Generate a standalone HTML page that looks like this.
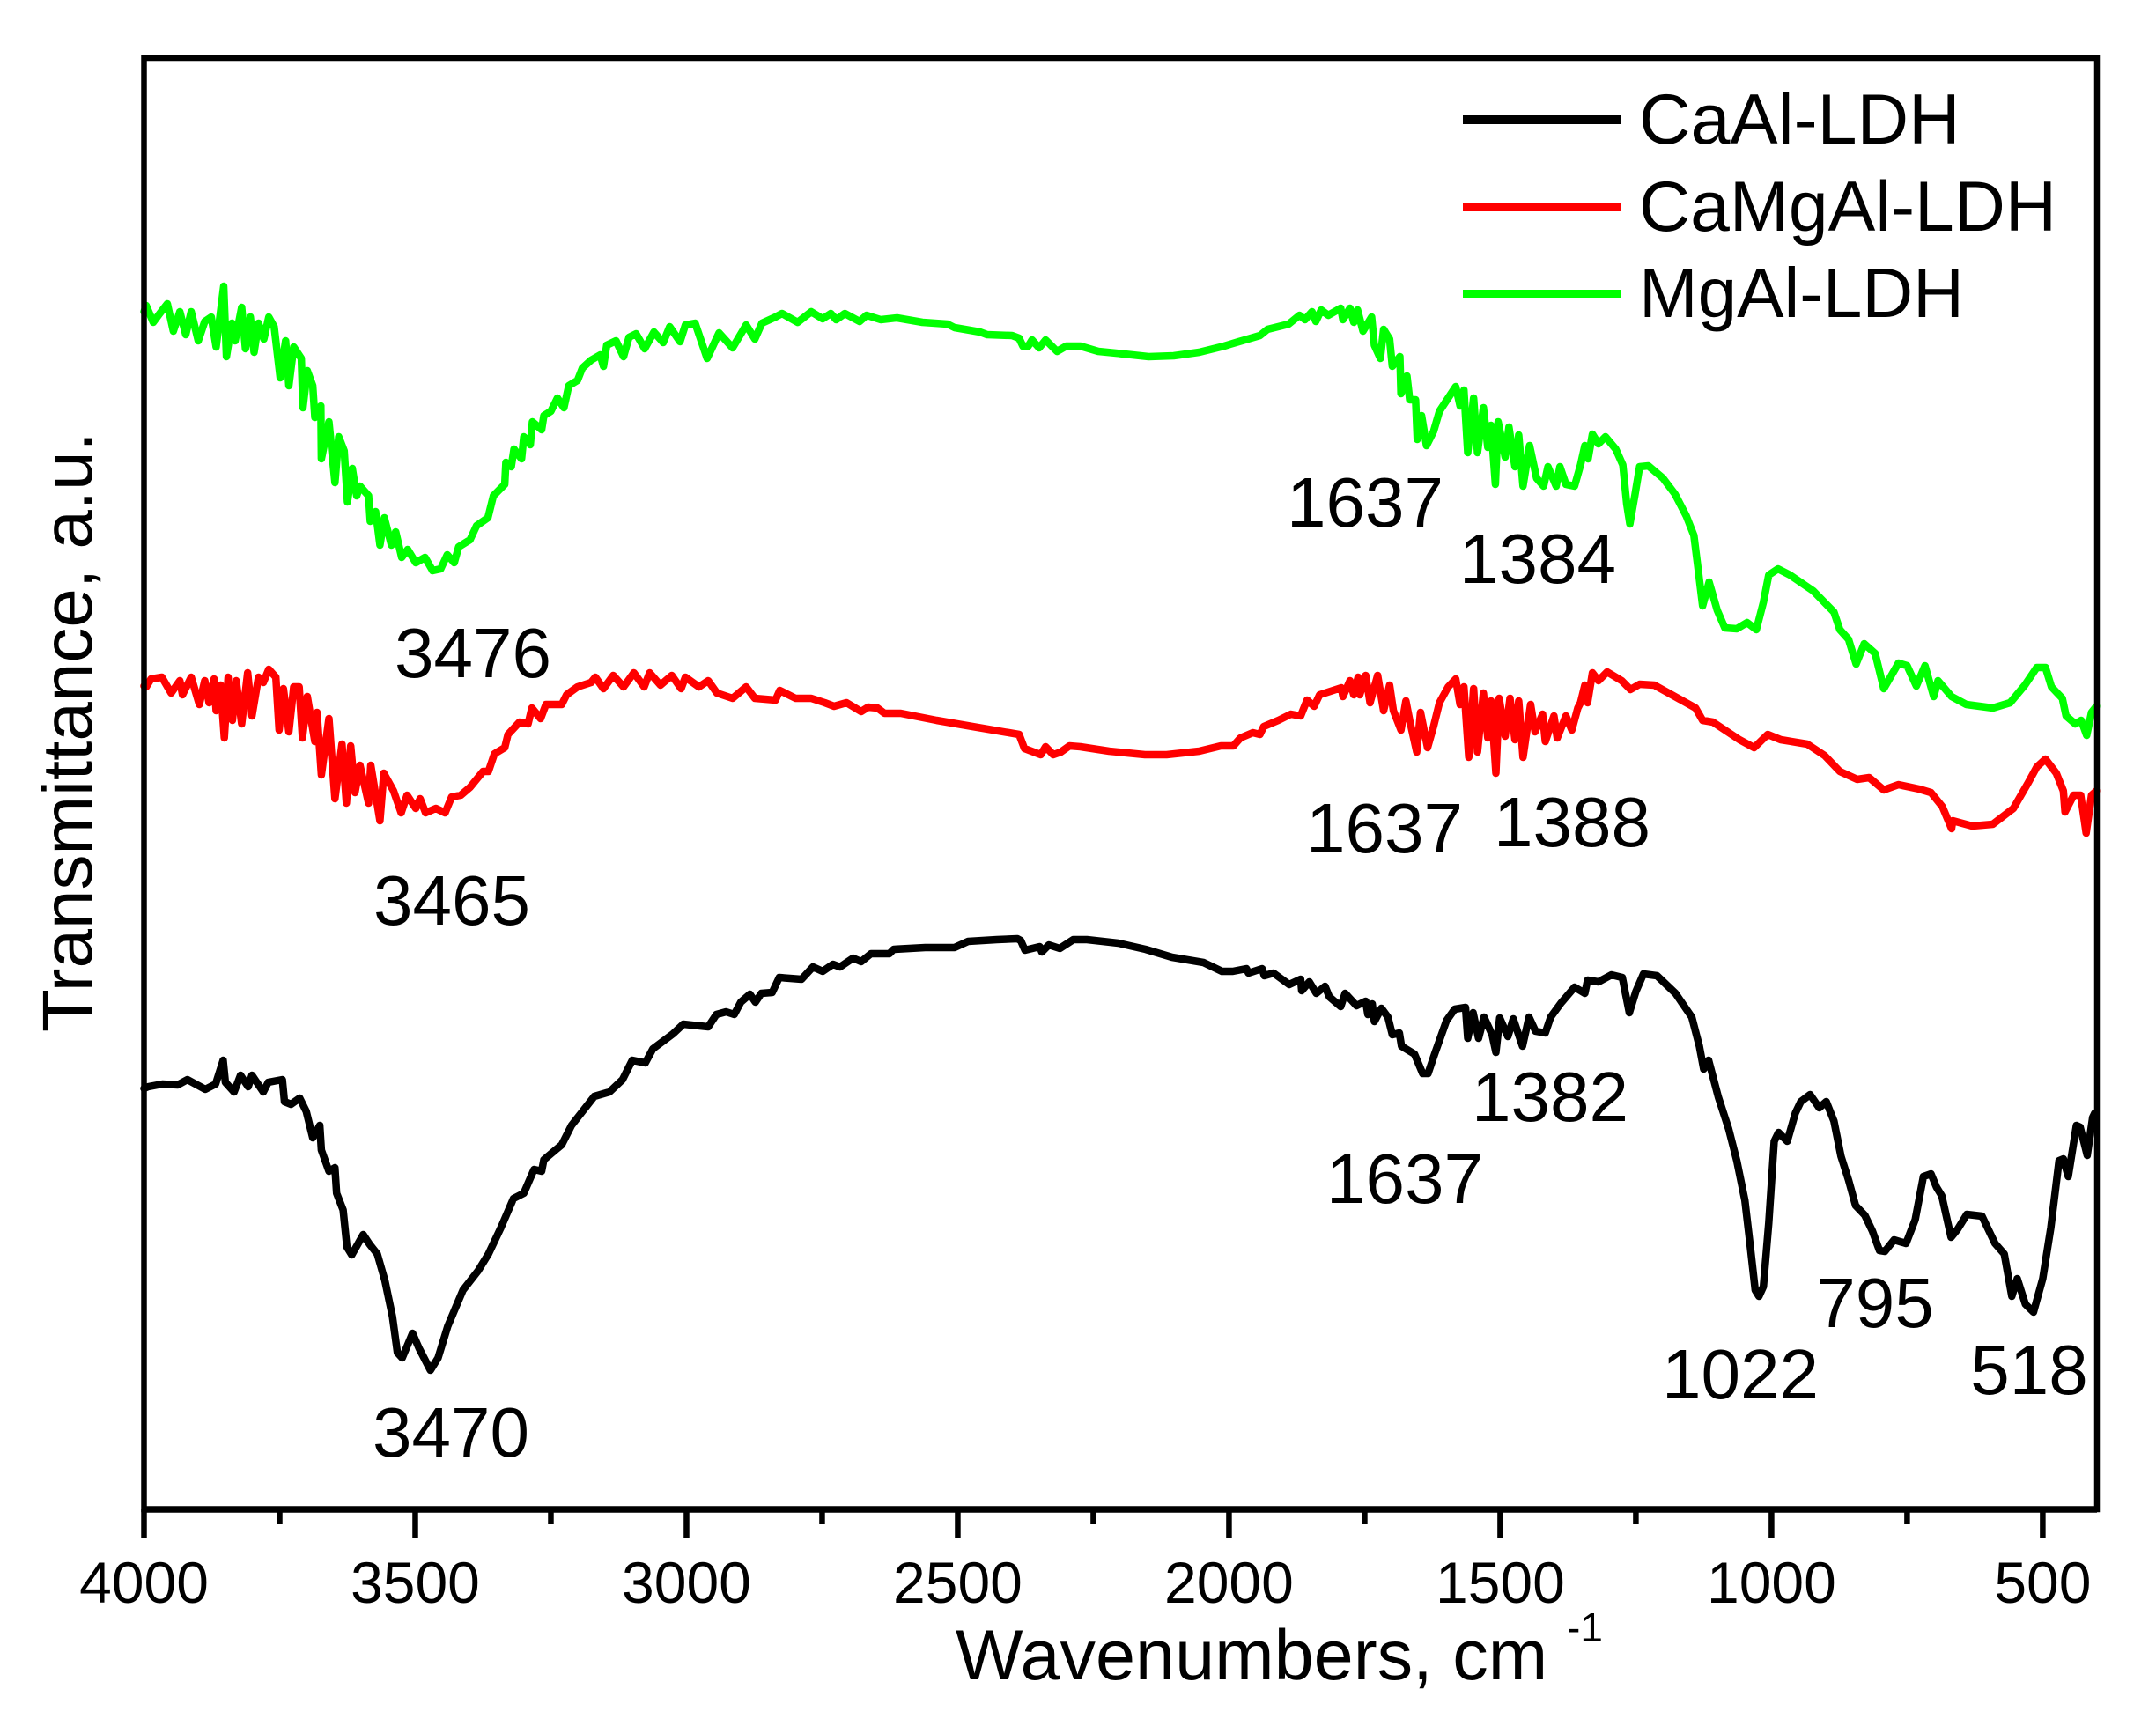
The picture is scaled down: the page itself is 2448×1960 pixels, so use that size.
<!DOCTYPE html>
<html lang="en">
<head>
<meta charset="utf-8">
<title>FTIR spectra of LDH samples</title>
<style>
html,body{margin:0;padding:0;background:#fff;}
svg{display:block;font-family:"Liberation Sans",Arial,sans-serif;fill:#000;}
</style>
</head>
<body>
<svg id="chart" xmlns="http://www.w3.org/2000/svg" width="2448" height="1960" viewBox="0 0 2448 1960">
  <rect x="0" y="0" width="2448" height="1960" fill="#ffffff"/>
  <g id="series-layer"></g>
  <g id="axis-layer"></g>

  <g>
    <text transform="translate(104 1172) rotate(-90)" font-size="80">Transmittance, a.u.</text>
  </g>
  <text x="1085" y="1907" font-size="81">Wavenumbers, cm</text>
  <text x="1779" y="1864" font-size="46">-1</text>

  <g>
    <rect x="1661" y="131" width="180" height="10" fill="#000000"/>
    <rect x="1661" y="230" width="180" height="10" fill="#ff0000"/>
    <rect x="1661" y="329" width="180" height="9" fill="#00ff00"/>
    <text x="1861" y="163" font-size="81">CaAl-LDH</text>
    <text x="1861" y="262" font-size="81" textLength="474" lengthAdjust="spacingAndGlyphs">CaMgAl-LDH</text>
    <text x="1861" y="360" font-size="80">MgAl-LDH</text>
  </g>

  <g font-size="80" text-anchor="middle">
    <text x="537" y="769">3476</text>
    <text x="1550" y="598">1637</text>
    <text x="1746" y="662">1384</text>
    <text x="513" y="1050">3465</text>
    <text x="1572" y="968">1637</text>
    <text x="1785" y="961">1388</text>
    <text x="512" y="1654">3470</text>
    <text x="1595" y="1366">1637</text>
    <text x="1760" y="1273">1382</text>
    <text x="1976" y="1588">1022</text>
    <text x="2129" y="1507">795</text>
    <text x="2304" y="1583">518</text>
  </g>
</svg>

<script>
const majorTicks = [4000,3500,3000,2500,2000,1500,1000,500];
const majorTickLabels = ["4000","3500","3000","2500","2000","1500","1000","500"];
const minorTicks = [3750,3250,2750,2250,1750,1250,750];

const mgAlWavenumbers = [4000,3996,3983,3971,3957,3946,3934,3923,3913,3900,3888,3876,3867,3853,3848,3838,3832,3820,3813,3804,3797,3789,3779,3770,3760,3749,3739,3733,3724,3710,3707,3699,3689,3685,3674,3673,3659,3648,3641,3631,3625,3616,3608,3602,3586,3583,3573,3565,3557,3544,3536,3525,3514,3499,3482,3468,3453,3441,3428,3420,3399,3387,3366,3356,3335,3333,3323,3318,3304,3300,3288,3284,3267,3263,3250,3238,3226,3217,3201,3192,3176,3159,3153,3147,3130,3116,3106,3093,3077,3060,3043,3031,3012,3002,2984,2973,2962,2940,2915,2890,2874,2861,2836,2824,2795,2770,2749,2734,2724,2708,2681,2668,2642,2612,2565,2519,2506,2459,2446,2400,2387,2380,2370,2363,2350,2338,2317,2300,2274,2241,2208,2148,2102,2055,2009,1982,1943,1929,1890,1870,1860,1847,1840,1830,1817,1794,1790,1777,1770,1763,1753,1737,1732,1721,1715,1704,1699,1685,1683,1672,1667,1656,1653,1645,1636,1623,1612,1596,1582,1574,1567,1560,1549,1542,1531,1523,1517,1509,1504,1491,1484,1473,1466,1458,1446,1433,1420,1412,1397,1390,1379,1363,1352,1344,1338,1330,1319,1306,1287,1274,1267,1261,1252,1243,1227,1200,1178,1157,1143,1135,1127,1115,1100,1086,1064,1045,1028,1015,1005,988,966,923,885,874,858,844,829,809,793,766,750,733,717,701,693,668,641,592,560,533,511,495,484,464,457,440,429,419,410,401];
const mgAlValues = [1360,1367,1348,1358,1369,1338,1360,1334,1360,1327,1349,1354,1320,1389,1309,1347,1327,1365,1318,1354,1314,1347,1329,1354,1343,1285,1327,1276,1320,1307,1251,1293,1276,1240,1253,1193,1235,1166,1218,1202,1144,1182,1151,1162,1151,1122,1133,1095,1126,1095,1110,1081,1090,1075,1081,1066,1068,1084,1075,1093,1101,1117,1126,1151,1164,1189,1184,1204,1193,1218,1209,1235,1226,1242,1247,1262,1251,1276,1282,1296,1305,1311,1298,1322,1327,1309,1331,1335,1318,1337,1325,1343,1326,1345,1347,1327,1307,1336,1319,1345,1329,1347,1354,1358,1348,1360,1352,1358,1351,1358,1349,1356,1351,1353,1348,1346,1342,1337,1334,1333,1330,1321,1321,1328,1319,1328,1315,1321,1321,1315,1313,1309,1310,1314,1321,1326,1333,1340,1346,1356,1351,1360,1349,1362,1356,1364,1351,1364,1348,1362,1338,1354,1322,1307,1340,1329,1298,1309,1267,1287,1260,1260,1215,1242,1208,1224,1247,1262,1275,1253,1271,1200,1262,1200,1251,1206,1231,1164,1235,1195,1229,1184,1220,1162,1208,1171,1162,1184,1162,1184,1164,1162,1186,1208,1193,1221,1210,1218,1204,1186,1142,1119,1151,1184,1185,1171,1153,1128,1106,1066,1026,1053,1021,1001,1000,1007,999,1030,1061,1068,1061,1043,1019,999,988,960,983,972,932,961,958,935,958,923,941,923,914,910,916,936,956,956,934,921,901,892,896,879,905,912];

const caMgAlWavenumbers = [4000,3996,3987,3967,3950,3934,3929,3913,3898,3888,3880,3871,3867,3859,3852,3845,3837,3830,3820,3809,3801,3789,3780,3770,3757,3751,3743,3733,3724,3714,3708,3699,3685,3681,3673,3659,3648,3635,3627,3619,3611,3602,3586,3582,3565,3558,3540,3526,3515,3499,3491,3481,3462,3445,3433,3416,3399,3375,3365,3354,3335,3329,3308,3292,3285,3269,3259,3230,3221,3201,3176,3168,3153,3135,3116,3097,3078,3068,3048,3027,3010,3002,2977,2960,2944,2915,2890,2874,2836,2828,2799,2770,2745,2728,2705,2678,2665,2648,2635,2605,2539,2473,2406,2387,2377,2347,2338,2324,2310,2294,2274,2221,2155,2115,2055,2015,1992,1979,1956,1943,1936,1909,1886,1868,1856,1843,1833,1793,1790,1777,1770,1762,1759,1748,1740,1726,1715,1704,1697,1683,1674,1667,1654,1647,1634,1623,1612,1596,1582,1574,1567,1558,1549,1542,1531,1523,1517,1508,1502,1491,1482,1473,1466,1458,1444,1436,1422,1417,1401,1395,1379,1368,1357,1352,1344,1339,1330,1319,1303,1276,1260,1243,1216,1178,1140,1127,1108,1059,1032,1007,983,934,902,874,842,820,793,766,728,706,685,668,666,630,592,554,527,511,495,475,462,459,443,430,420,410,401];
const caMgAlValues = [935,934,943,945,927,941,925,945,914,941,916,943,907,936,876,945,896,941,892,950,901,945,939,954,945,885,932,883,934,934,876,923,872,905,834,898,807,869,802,867,814,845,802,845,782,836,816,791,811,796,807,791,796,791,809,811,820,838,838,858,865,880,894,892,910,898,914,914,925,934,939,945,932,947,934,950,934,950,936,947,932,945,934,941,927,921,934,921,919,930,921,921,916,912,916,906,911,910,904,904,896,889,882,880,864,857,866,857,860,867,866,861,857,857,861,867,867,876,882,880,889,896,903,901,919,912,925,933,923,941,925,945,925,947,916,947,907,936,907,885,918,896,860,905,865,889,916,934,943,914,934,854,932,860,927,876,918,836,921,878,921,874,918,854,914,883,903,872,901,876,901,885,910,916,936,916,950,941,951,941,931,937,936,923,910,896,894,874,865,880,874,869,856,838,829,831,817,823,818,814,798,773,782,776,778,796,825,843,852,836,816,792,811,811,768,811,816];

const caAlWavenumbers = [4000,3992,3966,3938,3920,3887,3868,3854,3850,3834,3822,3808,3801,3780,3771,3745,3741,3729,3713,3701,3689,3676,3673,3659,3648,3645,3633,3626,3617,3596,3584,3570,3556,3542,3533,3524,3505,3493,3472,3458,3440,3412,3384,3365,3342,3319,3300,3281,3267,3263,3230,3212,3170,3142,3118,3100,3076,3062,3025,3006,2960,2945,2927,2912,2900,2883,2873,2862,2842,2829,2788,2767,2749,2730,2717,2693,2678,2660,2626,2618,2560,2506,2481,2428,2390,2384,2376,2349,2345,2332,2312,2287,2262,2204,2154,2105,2047,2013,1993,1968,1964,1939,1935,1918,1889,1868,1866,1852,1839,1823,1815,1794,1786,1765,1748,1744,1736,1732,1719,1707,1699,1686,1682,1658,1643,1633,1621,1599,1584,1564,1560,1550,1540,1530,1515,1508,1501,1486,1476,1459,1447,1435,1417,1407,1388,1363,1344,1339,1319,1295,1275,1262,1250,1236,1211,1177,1147,1133,1125,1116,1098,1079,1064,1049,1039,1030,1023,1015,1005,995,987,971,956,946,929,912,899,885,872,858,845,828,814,801,791,774,752,735,720,706,696,686,669,657,640,612,588,571,557,547,532,517,500,485,470,462,453,438,431,418,408,404];
const caAlValues = [478,480,483,482,488,477,483,510,485,474,493,480,493,474,485,488,463,460,467,452,422,436,408,384,388,359,340,298,289,312,301,290,260,219,178,172,200,183,158,172,208,249,271,290,320,353,359,386,384,397,414,436,469,474,488,510,507,523,540,551,548,562,565,562,576,585,576,586,587,604,602,616,611,619,616,626,622,631,631,636,638,638,645,647,648,646,635,639,633,641,637,647,647,643,636,627,621,611,611,614,609,614,606,609,596,602,589,599,586,594,582,571,586,572,577,562,574,554,569,559,539,541,526,517,495,495,517,555,568,570,535,564,535,559,539,519,558,537,557,526,559,543,541,559,575,593,586,601,599,607,604,564,588,608,606,586,559,526,500,510,468,432,396,351,298,249,242,253,325,418,428,418,450,463,471,456,463,441,401,374,345,334,316,294,293,306,302,329,378,381,366,356,309,318,335,333,302,290,242,262,233,224,262,320,396,398,378,436,434,402,445,450];

const SVG_NS = "http://www.w3.org/2000/svg";
const plotLeft = 163.5, plotRight = 2381, plotTop = 66, plotBottom = 1714;
const xDomainMax = 4000, xDomainMin = 400;
const yDomainMin = 0, yDomainMax = 1648;

function xScale(w){
  return plotLeft + (xDomainMax - w) * (plotRight - plotLeft) / (xDomainMax - xDomainMin);
}
function yScale(v){
  return plotBottom - (v - yDomainMin) * (plotBottom - plotTop) / (yDomainMax - yDomainMin);
}
function pathFrom(ws, vs){
  let d = "";
  const n = Math.min(ws.length, vs.length);
  for(let i = 0; i < n; i++){
    d += (i ? "L" : "M") + xScale(ws[i]).toFixed(1) + " " + yScale(vs[i]).toFixed(1);
  }
  return d;
}

const seriesLayer = document.getElementById("series-layer");

const mgAlLine = document.createElementNS(SVG_NS, "path");


mgAlLine.setAttribute("d", pathFrom(mgAlWavenumbers, mgAlValues));
mgAlLine.setAttribute("stroke", "#00ff00");
seriesLayer.appendChild(mgAlLine);

const caMgAlLine = document.createElementNS(SVG_NS, "path");


caMgAlLine.setAttribute("d", pathFrom(caMgAlWavenumbers, caMgAlValues));
caMgAlLine.setAttribute("stroke", "#ff0000");
seriesLayer.appendChild(caMgAlLine);

const caAlLine = document.createElementNS(SVG_NS, "path");


caAlLine.setAttribute("d", pathFrom(caAlWavenumbers, caAlValues));
caAlLine.setAttribute("stroke", "#000000");
seriesLayer.appendChild(caAlLine);

[mgAlLine, caMgAlLine, caAlLine].forEach(function(p){
  p.setAttribute("fill", "none");
  p.setAttribute("stroke-width", "8.5");
  p.setAttribute("stroke-linejoin", "round");
  p.setAttribute("stroke-linecap", "round");
});

const axisLayer = document.getElementById("axis-layer");

const frame = document.createElementNS(SVG_NS, "rect");


frame.setAttribute("x", plotLeft);
frame.setAttribute("y", plotTop);
frame.setAttribute("width", plotRight - plotLeft);
frame.setAttribute("height", plotBottom - plotTop);
frame.setAttribute("fill", "none");
frame.setAttribute("stroke", "#000");
frame.setAttribute("stroke-width", "6.5");
axisLayer.appendChild(frame);

const xAxisLine = document.createElementNS(SVG_NS, "line");


xAxisLine.setAttribute("x1", plotLeft - 3);
xAxisLine.setAttribute("x2", plotRight);
xAxisLine.setAttribute("y1", plotBottom);
xAxisLine.setAttribute("y2", plotBottom);
xAxisLine.setAttribute("stroke", "#000");
xAxisLine.setAttribute("stroke-width", "7.5");
axisLayer.appendChild(xAxisLine);

majorTicks.forEach(function(w, i){
  const tick = document.createElementNS(SVG_NS, "line");
  
  
  tick.setAttribute("x1", xScale(w));
  tick.setAttribute("x2", xScale(w));
  tick.setAttribute("y1", plotBottom);
  tick.setAttribute("y2", 1747);
  tick.setAttribute("stroke", "#000");
  tick.setAttribute("stroke-width", "6.5");
  axisLayer.appendChild(tick);

  const label = document.createElementNS(SVG_NS, "text");
  
  
  label.setAttribute("x", xScale(w));
  label.setAttribute("y", 1820);
  label.setAttribute("font-size", "66");
  label.setAttribute("text-anchor", "middle");
  label.textContent = majorTickLabels[i];
  axisLayer.appendChild(label);
});

minorTicks.forEach(function(w){
  const tick = document.createElementNS(SVG_NS, "line");
  
  
  tick.setAttribute("x1", xScale(w));
  tick.setAttribute("x2", xScale(w));
  tick.setAttribute("y1", plotBottom);
  tick.setAttribute("y2", 1731);
  tick.setAttribute("stroke", "#000");
  tick.setAttribute("stroke-width", "6.5");
  axisLayer.appendChild(tick);
});
</script>
</body>
</html>
